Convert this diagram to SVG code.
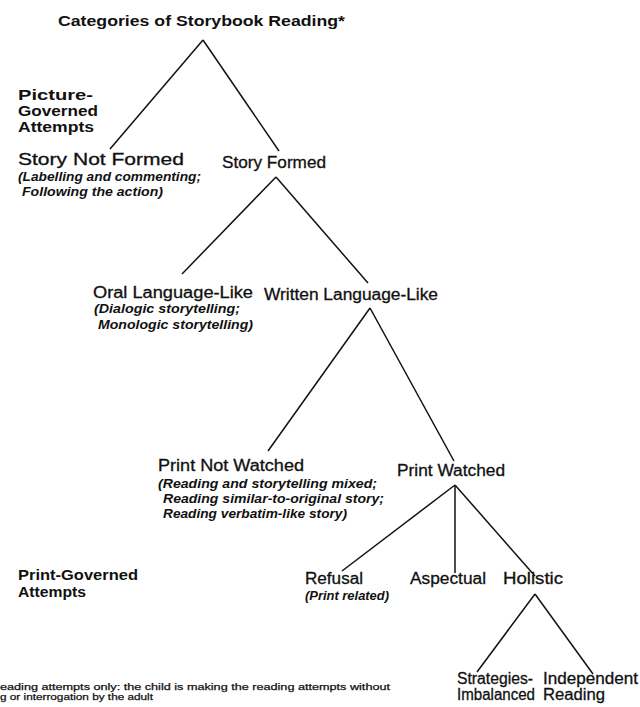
<svg xmlns="http://www.w3.org/2000/svg" width="640" height="707" viewBox="0 0 640 707">
<style>
.t{font-family:"Liberation Sans",Arial,sans-serif;fill:#111;}
.n{font-size:16px;stroke:#111;stroke-width:0.3;}
.b{font-size:14px;font-weight:bold;}
.i{font-size:12px;font-style:italic;font-weight:bold;}
.f{font-size:9.5px;stroke:#111;stroke-width:0.25;}
.c line{stroke:#111;stroke-width:1.5;}
</style>
<rect width="640" height="707" fill="#fff"/>
<g id="connectors" class="c">
<line x1="203" y1="40" x2="110" y2="149"/>
<line x1="203" y1="40" x2="279" y2="151"/>
<line x1="276" y1="177" x2="182" y2="274"/>
<line x1="276" y1="177" x2="368" y2="283"/>
<line x1="370" y1="308" x2="268" y2="451"/>
<line x1="370" y1="308" x2="454" y2="461"/>
<line x1="455" y1="485" x2="342" y2="571"/>
<line x1="455" y1="485" x2="455" y2="573"/>
<line x1="455" y1="485" x2="535" y2="576"/>
<line x1="535" y1="594" x2="477" y2="672"/>
<line x1="535" y1="594" x2="593" y2="674"/>
</g>
<g id="title"><text class="t b" x="58" y="26" textLength="287" lengthAdjust="spacingAndGlyphs">Categories of Storybook Reading*</text></g>
<g id="picture-governed">
<text class="t b" x="18" y="100" textLength="75" lengthAdjust="spacingAndGlyphs">Picture-</text>
<text class="t b" x="18" y="116" textLength="80" lengthAdjust="spacingAndGlyphs">Governed</text>
<text class="t b" x="18" y="132" textLength="76" lengthAdjust="spacingAndGlyphs">Attempts</text>
</g>
<g id="story-not-formed">
<text class="t n" x="18" y="165" textLength="166" lengthAdjust="spacingAndGlyphs">Story Not Formed</text>
<text class="t i" x="18" y="181" textLength="183" lengthAdjust="spacingAndGlyphs">(Labelling and commenting;</text>
<text class="t i" x="22" y="196" textLength="141" lengthAdjust="spacingAndGlyphs">Following the action)</text>
</g>
<g id="story-formed"><text class="t n" x="222" y="168" textLength="104" lengthAdjust="spacingAndGlyphs">Story Formed</text></g>
<g id="oral-language-like">
<text class="t n" x="93" y="298" textLength="160" lengthAdjust="spacingAndGlyphs">Oral Language-Like</text>
<text class="t i" x="94" y="313" textLength="146" lengthAdjust="spacingAndGlyphs">(Dialogic storytelling;</text>
<text class="t i" x="98" y="329" textLength="155" lengthAdjust="spacingAndGlyphs">Monologic storytelling)</text>
</g>
<g id="written-language-like"><text class="t n" x="264" y="300" textLength="174" lengthAdjust="spacingAndGlyphs">Written Language-Like</text></g>
<g id="print-not-watched">
<text class="t n" x="158" y="471" textLength="146" lengthAdjust="spacingAndGlyphs">Print Not Watched</text>
<text class="t i" x="158" y="488" textLength="219" lengthAdjust="spacingAndGlyphs">(Reading and storytelling mixed;</text>
<text class="t i" x="163" y="503" textLength="221" lengthAdjust="spacingAndGlyphs">Reading similar-to-original story;</text>
<text class="t i" x="163" y="518" textLength="184" lengthAdjust="spacingAndGlyphs">Reading verbatim-like story)</text>
</g>
<g id="print-watched"><text class="t n" x="397" y="476" textLength="108" lengthAdjust="spacingAndGlyphs">Print Watched</text></g>
<g id="print-governed">
<text class="t b" x="18" y="580" textLength="120" lengthAdjust="spacingAndGlyphs">Print-Governed</text>
<text class="t b" x="18" y="597" textLength="68" lengthAdjust="spacingAndGlyphs">Attempts</text>
</g>
<g id="refusal">
<text class="t n" x="305" y="584" textLength="58" lengthAdjust="spacingAndGlyphs">Refusal</text>
<text class="t i" x="305" y="600" textLength="84" lengthAdjust="spacingAndGlyphs">(Print related)</text>
</g>
<g id="aspectual"><text class="t n" x="410" y="584" textLength="76" lengthAdjust="spacingAndGlyphs">Aspectual</text></g>
<g id="holistic"><text class="t n" x="503" y="584" textLength="60" lengthAdjust="spacingAndGlyphs">Holistic</text></g>
<g id="strategies-imbalanced">
<text class="t n" x="457" y="684" textLength="76" lengthAdjust="spacingAndGlyphs">Strategies-</text>
<text class="t n" x="457" y="700" textLength="78" lengthAdjust="spacingAndGlyphs">Imbalanced</text>
</g>
<g id="independent-reading">
<text class="t n" x="543" y="684" textLength="95" lengthAdjust="spacingAndGlyphs">Independent</text>
<text class="t n" x="543" y="700" textLength="62" lengthAdjust="spacingAndGlyphs">Reading</text>
</g>
<g id="footnote">
<text class="t f" x="0" y="690" textLength="390" lengthAdjust="spacingAndGlyphs">eading attempts only: the child is making the reading attempts without</text>
<text class="t f" x="0" y="700" textLength="153" lengthAdjust="spacingAndGlyphs">g or interrogation by the adult</text>
</g>
</svg>
